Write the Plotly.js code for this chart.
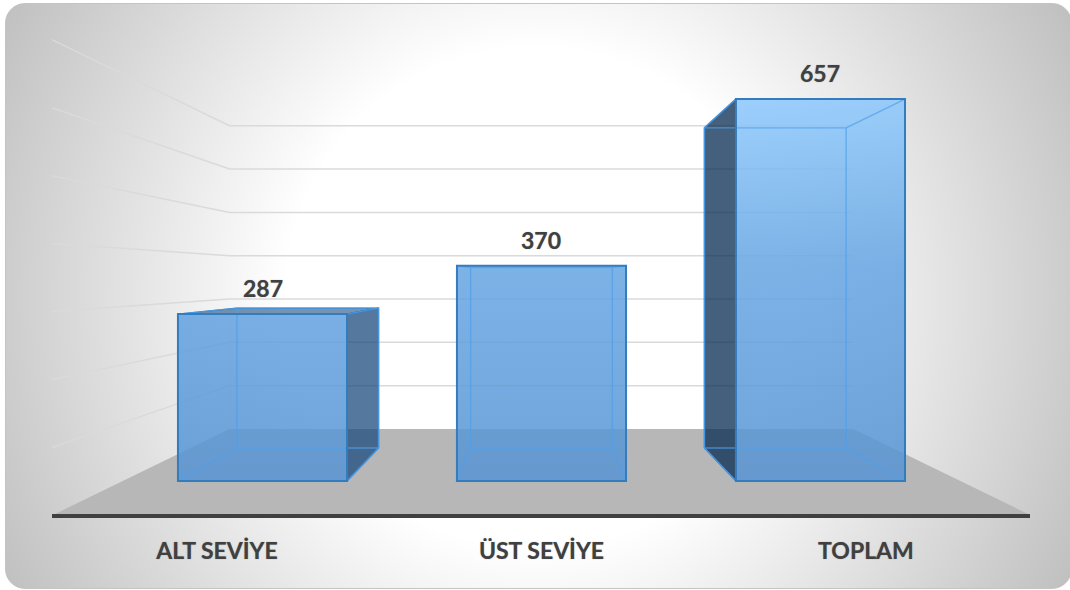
<!DOCTYPE html>
<html>
<head>
<meta charset="utf-8">
<script src="https://cdn.plot.ly/plotly-3.0.1.min.js"></script>
<style>
html,body{margin:0;padding:0;background:#fff;width:1070px;height:590px;overflow:hidden}
#card{position:absolute;left:5px;top:3px;width:1067px;height:586px;box-sizing:border-box;border:1px solid #c4c4c4;border-radius:20px;
background:radial-gradient(circle 610px at 530px 294px,#fff 41%,#bfbfbf 100%)}
#chart{position:absolute;left:0;top:0;width:1070px;height:590px}
</style>
</head>
<body>
<div id="card"></div>
<div id="chart"></div>
<script>
// Data
const categories = ["ALT SEVİYE", "ÜST SEVİYE", "TOPLAM"];
const values = [287, 370, 657];
const gridValues = [100, 200, 300, 400, 500, 600, 700];

// Perspective of the pseudo-3D scene, in axis units
const depthBack = 0.838, depthWall = 0.745, depthFloor = 1.1716;
const vanishX = 1, vanishV = 350.9, halfBar = 0.303, halfWall = 1.501, labelSpread = 1.163;
const px = (x, s) => vanishX + (x - vanishX) * s;
const py = (v, s) => vanishV + (v - vanishV) * s;

const xRange = [-0.7545, 2.751], yRange = [-56.8, 827.3];
const ink = "#404040", edge = "#337CBE", innerEdge = "rgba(78,160,238,0.7)";
const labelShadow = "0 0 1px rgba(64,64,64,0.55)";

function poly(points){ return {x: points.map(p => p[0]), y: points.map(p => p[1])}; }
function joinPolys(list){
  const x = [], y = [];
  list.forEach(p => { x.push(...p.x, null); y.push(...p.y, null); });
  return {x, y};
}
function base(extra){ return Object.assign({type:"scatter", mode:"lines", hoverinfo:"skip", showlegend:false, line:{width:0}}, extra); }

// Back wall and left wall grid lines
const grid = joinPolys(gridValues.map(v => poly([
  [px(vanishX - halfWall, depthFloor), py(v, depthFloor)],
  [px(vanishX - halfWall, depthWall), py(v, depthWall)],
  [px(vanishX + halfWall, depthWall), py(v, depthWall)]
])));
const gridTrace = base(Object.assign({line:{color:"#DADADA", width:1.5}}, grid));

// Floor
const floorTrace = base(Object.assign({fill:"toself", fillcolor:"#B7B7B7"}, poly([
  [px(vanishX - halfWall, depthFloor), py(0, depthFloor)],
  [px(vanishX - halfWall, depthWall), py(0, depthWall)],
  [px(vanishX + halfWall, depthWall), py(0, depthWall)],
  [px(vanishX + halfWall, depthFloor), py(0, depthFloor)],
  [px(vanishX - halfWall, depthFloor), py(0, depthFloor)]
])));

// Bar faces built from the values
const frontFaces = [], rightSides = [], leftSides = [], tops = [], inner = [];
values.forEach((v, i) => {
  const l = i - halfBar, r = i + halfBar;
  const bl = px(l, depthBack), br = px(r, depthBack);
  const b0 = py(0, depthBack), bv = py(v, depthBack);
  frontFaces.push(poly([[l,0],[l,v],[r,v],[r,0],[l,0]]));
  if (br > r) rightSides.push(poly([[r,0],[r,v],[br,bv],[br,b0],[r,0]]));
  if (bl < l) leftSides.push(poly([[l,0],[l,v],[bl,bv],[bl,b0],[l,0]]));
  if (bv > v) tops.push(poly([[l,v],[bl,bv],[br,bv],[r,v],[l,v]]));
  inner.push(poly([[bl,b0],[bl,bv],[br,bv],[br,b0],[bl,b0]]));
  inner.push(poly([[l,0],[bl,b0]]), poly([[r,0],[br,b0]]), poly([[l,v],[bl,bv]]), poly([[r,v],[br,bv]]));
});

const frontFill = base(Object.assign({
  fill:"toself",
  fillgradient:{type:"vertical", start:0, stop:657,
    colorscale:[[0,"rgba(87,149,212,0.85)"],[0.56,"rgba(102,166,228,0.85)"],[1,"rgba(143,203,255,0.85)"]]}
}, joinPolys(frontFaces)));
const innerEdges = base(Object.assign({line:{color:innerEdge, width:1.4}}, joinPolys(inner)));
const rightFaces = base(Object.assign({fill:"toself", fillcolor:"rgba(28,75,127,0.75)", line:{color:edge, width:1.4}}, joinPolys(rightSides)));
const leftFaces = base(Object.assign({fill:"toself", fillcolor:"rgba(6,43,80,0.75)", line:{color:edge, width:1.4}}, joinPolys(leftSides)));
const topFaces = base(Object.assign({fill:"toself", fillcolor:"rgba(28,75,127,0.6)", line:{color:edge, width:1.4}}, joinPolys(tops)));

// Front outline drawn through the library's bar geometry, on an overlaid subplot
const barTrace = {
  type:"bar", x: categories.map((c, i) => i), y: values, width: 2 * halfBar,
  xaxis:"x2", yaxis:"y2", hovertext: categories, hoverinfo:"text+y", showlegend:false,
  marker:{color:"rgba(91,155,213,0.04)", line:{color:edge, width:2}}
};

const layout = {
  width:1070, height:590,
  margin:{l:52, r:40, t:0, b:76, pad:0},
  paper_bgcolor:"rgba(0,0,0,0)", plot_bgcolor:"rgba(0,0,0,0)",
  showlegend:false,
  font:{family:"Lato, sans-serif", color:ink},
  xaxis:{range:xRange, fixedrange:true, showgrid:false, zeroline:false,
    showline:true, linecolor:ink, linewidth:4,
    tickmode:"array", tickvals:categories.map((c, i) => vanishX + (i - vanishX) * labelSpread),
    ticktext:categories, ticks:"outside", ticklen:13, tickcolor:"rgba(0,0,0,0)",
    tickfont:{family:"Lato, sans-serif", size:23, color:ink, weight:700, shadow:labelShadow}},
  yaxis:{range:yRange, fixedrange:true, visible:false},
  xaxis2:{range:xRange, overlaying:"x", visible:false, fixedrange:true, anchor:"y2"},
  yaxis2:{range:yRange, overlaying:"y", visible:false, fixedrange:true, anchor:"x2"},
  annotations: values.map((v, i) => ({
    xref:"x2", yref:"y2", x:i, y:v, text:String(v), showarrow:false,
    yanchor:"middle", xanchor:"center", yshift:26,
    font:{family:"Lato, sans-serif", size:23, color:ink, weight:700, shadow:labelShadow}
  }))
};

Plotly.newPlot("chart",
  [gridTrace, floorTrace, rightFaces, leftFaces, topFaces, frontFill, innerEdges, barTrace],
  layout, {displayModeBar:false, staticPlot:true});
</script>
</body>
</html>
